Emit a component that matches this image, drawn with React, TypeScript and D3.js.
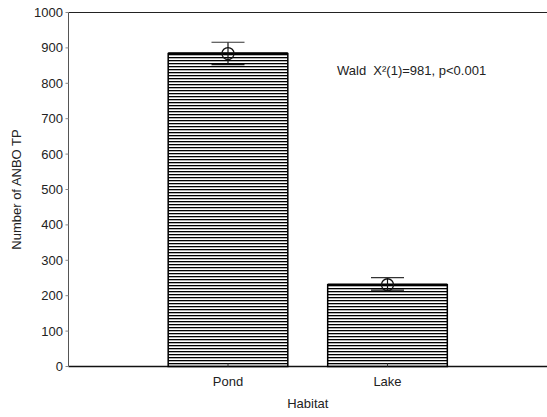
import React from "react";
import * as d3 from "d3";

const categories = ["Pond", "Lake"];
const means = [884, 231];
const upper = [916, 251];
const lower = [853, 216];
const yTicks = [0, 100, 200, 300, 400, 500, 600, 700, 800, 900, 1000];
const annotation = "Wald  X²(1)=981, p<0.001";

export default function App() {
  const W = 547, H = 417;
  const left = 68.5, right = 547, top = 12.5, bottom = 366.5;
  const y = d3.scaleLinear().domain([0, 1000]).range([bottom, top]);
  const x = d3.scalePoint<string>().domain(categories).range([left, right]).padding(1);
  const bw = x.step() * 0.75;
  const capW = 33;
  const font = "Arial, 'Liberation Sans', sans-serif";
  return (
    <svg width={W} height={H} style={{ position: "absolute", left: 0, top: 0 }} fontFamily={font}>
      <defs>
        <pattern id="hatch" patternUnits="userSpaceOnUse" width={8} height={3}>
          <rect x={0} y={0} width={8} height={1.3} fill="#000" />
        </pattern>
      </defs>
      <rect width={W} height={H} fill="#fff" />
      <line x1={left} x2={right} y1={top} y2={top} stroke="#222" strokeWidth={1.2} />
      <line x1={left} x2={right} y1={bottom} y2={bottom} stroke="#111" strokeWidth={1.4} />
      <line x1={left} x2={left} y1={top} y2={bottom} stroke="#555" strokeWidth={1} />
      {yTicks.map((t) => (
        <g key={t}>
          <line x1={left - 3} x2={left} y1={y(t)} y2={y(t)} stroke="#888" strokeWidth={1} />
          <text x={63} y={y(t)} dy="0.35em" textAnchor="end" fontSize={13} fill="#222">{t}</text>
        </g>
      ))}
      {categories.map((c, i) => {
        const cx = x(c)!;
        return (
          <g key={c}>
            <rect x={cx - bw / 2} y={y(means[i])} width={bw} height={bottom - y(means[i])} fill="url(#hatch)" />
            <rect x={cx - bw / 2} y={y(means[i])} width={bw} height={bottom - y(means[i])} fill="none" stroke="#000" strokeWidth={1.5} />
            <line x1={cx - bw / 2} x2={cx + bw / 2} y1={y(means[i])} y2={y(means[i])} stroke="#000" strokeWidth={2.5} />
            <line x1={cx} x2={cx} y1={y(upper[i])} y2={y(lower[i])} stroke="#111" strokeWidth={1.2} />
            <line x1={cx - capW / 2} x2={cx + capW / 2} y1={y(upper[i])} y2={y(upper[i])} stroke="#333" strokeWidth={1.2} />
            <line x1={cx - capW / 2} x2={cx + capW / 2} y1={y(lower[i])} y2={y(lower[i])} stroke="#111" strokeWidth={1.2} />
            <circle cx={cx} cy={y(means[i])} r={6} fill="none" stroke="#111" strokeWidth={1.3} />
            <line x1={cx} x2={cx} y1={bottom} y2={bottom - 3} stroke="#333" strokeWidth={1} />
            <text x={cx} y={386} textAnchor="middle" fontSize={13} fill="#222">{c}</text>
          </g>
        );
      })}
      <text x={(left + right) / 2} y={408} textAnchor="middle" fontSize={13} fill="#222">Habitat</text>
      <text transform={`translate(21,${(top + bottom) / 2}) rotate(-90)`} textAnchor="middle" fontSize={13} fill="#222">Number of ANBO TP</text>
      <text x={337} y={75} fontSize={13} fill="#222" style={{ whiteSpace: "pre" }}>{annotation}</text>
    </svg>
  );
}
